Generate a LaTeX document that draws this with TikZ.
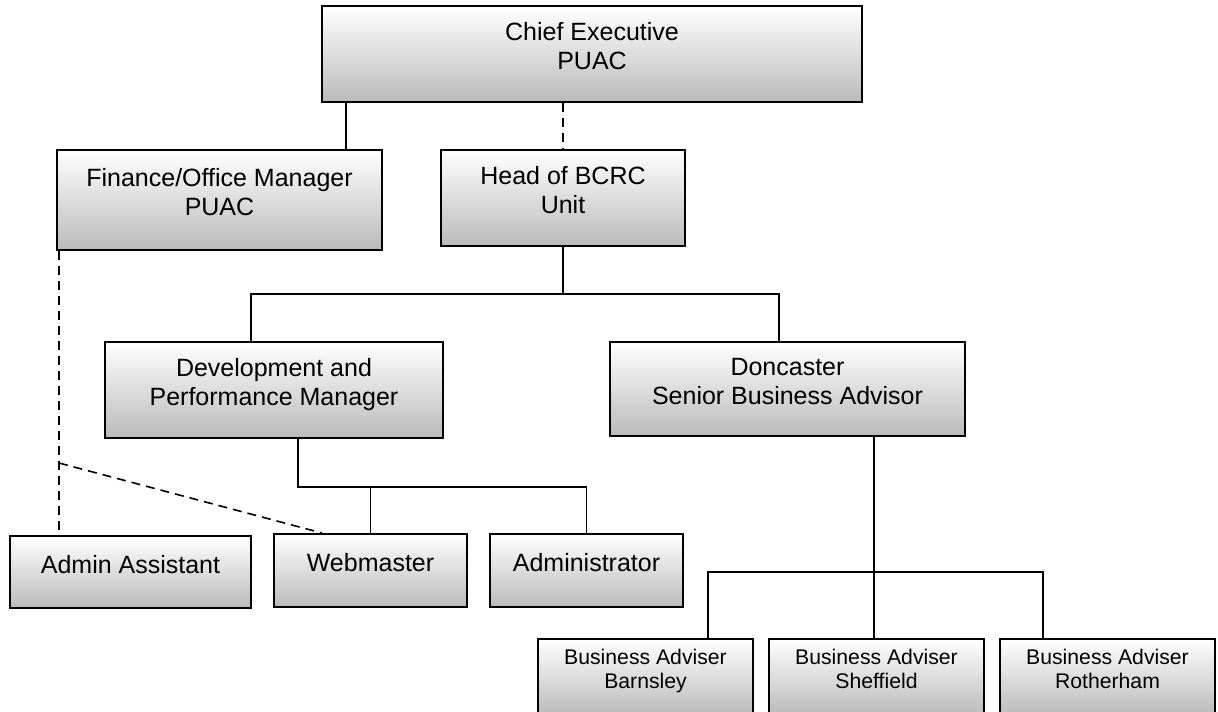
\documentclass[tikz,border=0pt]{standalone}
\usepackage{fontspec}
\setmainfont{Liberation Sans}
\tikzset{
  post/.style={draw, line width=1pt, top color=white, bottom color=black!27,
    inner sep=0pt, align=center, font=\fontsize{12.5pt}{14.5pt}\selectfont,
    execute at end node={\rule[-8pt]{0pt}{0pt}}},
  smallpost/.style={post, font=\fontsize{10.6pt}{11.8pt}\selectfont,
    execute at end node={}},
  link/.style={line width=0.8pt},
  dlink/.style={link, dash pattern=on 4.5pt off 3pt}
}

\begin{document}
\begin{tikzpicture}[x=0.5pt,y=-0.5pt]
  \useasboundingbox (0,0) rectangle (1218,711);
  \clip (0,0) rectangle (1218,711);

  \node[post, minimum width=270pt, minimum height=48pt] (ce) at (592,54)
  {Chief Executive\\PUAC};
  \node[post, minimum width=162.5pt, minimum height=50pt] (fin) at (219.5,200)
  {Finance/Office Manager\\PUAC};
  \node[post, minimum width=122pt, minimum height=48pt] (head) at (563,198)
  {Head of BCRC\\Unit};
  \node[post, minimum width=169pt, minimum height=48pt] (dev) at (274,390)
  {Development and\\Performance Manager};
  \node[post, minimum width=177.5pt, minimum height=47pt] (don) at (787.5,389)
  {Doncaster\\Senior Business Advisor};
  \node[post, minimum width=120.5pt, minimum height=36pt] (aa) at (130.5,572)
  {Admin Assistant};
  \node[post, minimum width=96.5pt, minimum height=36.5pt] (web) at (370.5,570.5)
  {Webmaster};
  \node[post, minimum width=96.5pt, minimum height=36.5pt] (adm) at (586.5,570.5)
  {Administrator};
  \node[smallpost, minimum width=107.5pt, minimum height=38pt] (bar) at (645.5,677)
  {Business Adviser\\Barnsley};
  \node[smallpost, minimum width=107.5pt, minimum height=38pt] (shf) at (876.5,677)
  {Business Adviser\\Sheffield};
  \node[smallpost, minimum width=107.5pt, minimum height=38pt] (rot) at (1107.5,677)
  {Business Adviser\\Rotherham};

  \coordinate (bus1) at (251,294);
  \coordinate (bus2) at (779,294);
  \coordinate (bus3) at (298,487);
  \coordinate (bus5) at (708,572);
  \coordinate (bus6) at (1043,572);
  \coordinate (fork) at (59,463);

  \draw[link] (ce.south -| 346,0) -- (fin.north -| 346,0);
  \draw[dlink] (ce.south -| head.north) -- (head.north);
  \draw[link] (head.south) -- (head.south |- bus1);
  \draw[link] (dev.north -| bus1) -- (bus1) -- (bus2) -- (don.north -| bus2);
  \draw[link] (dev.south -| bus3) -- (bus3) -- (adm.north |- bus3) -- (adm.north);
  \draw[link] (web.north |- bus3) -- (web.north);
  \draw[link] (don.south -| 874,0) -- (shf.north -| 874,0);
  \draw[link] (bar.north -| bus5) -- (bus5) -- (bus6) -- (rot.north -| bus6);
  \draw[dlink] (fin.south -| fork) -- (aa.north -| fork);
  \draw[dlink] (fork) -- (web.north -| 322,0);
\end{tikzpicture}
\end{document}
